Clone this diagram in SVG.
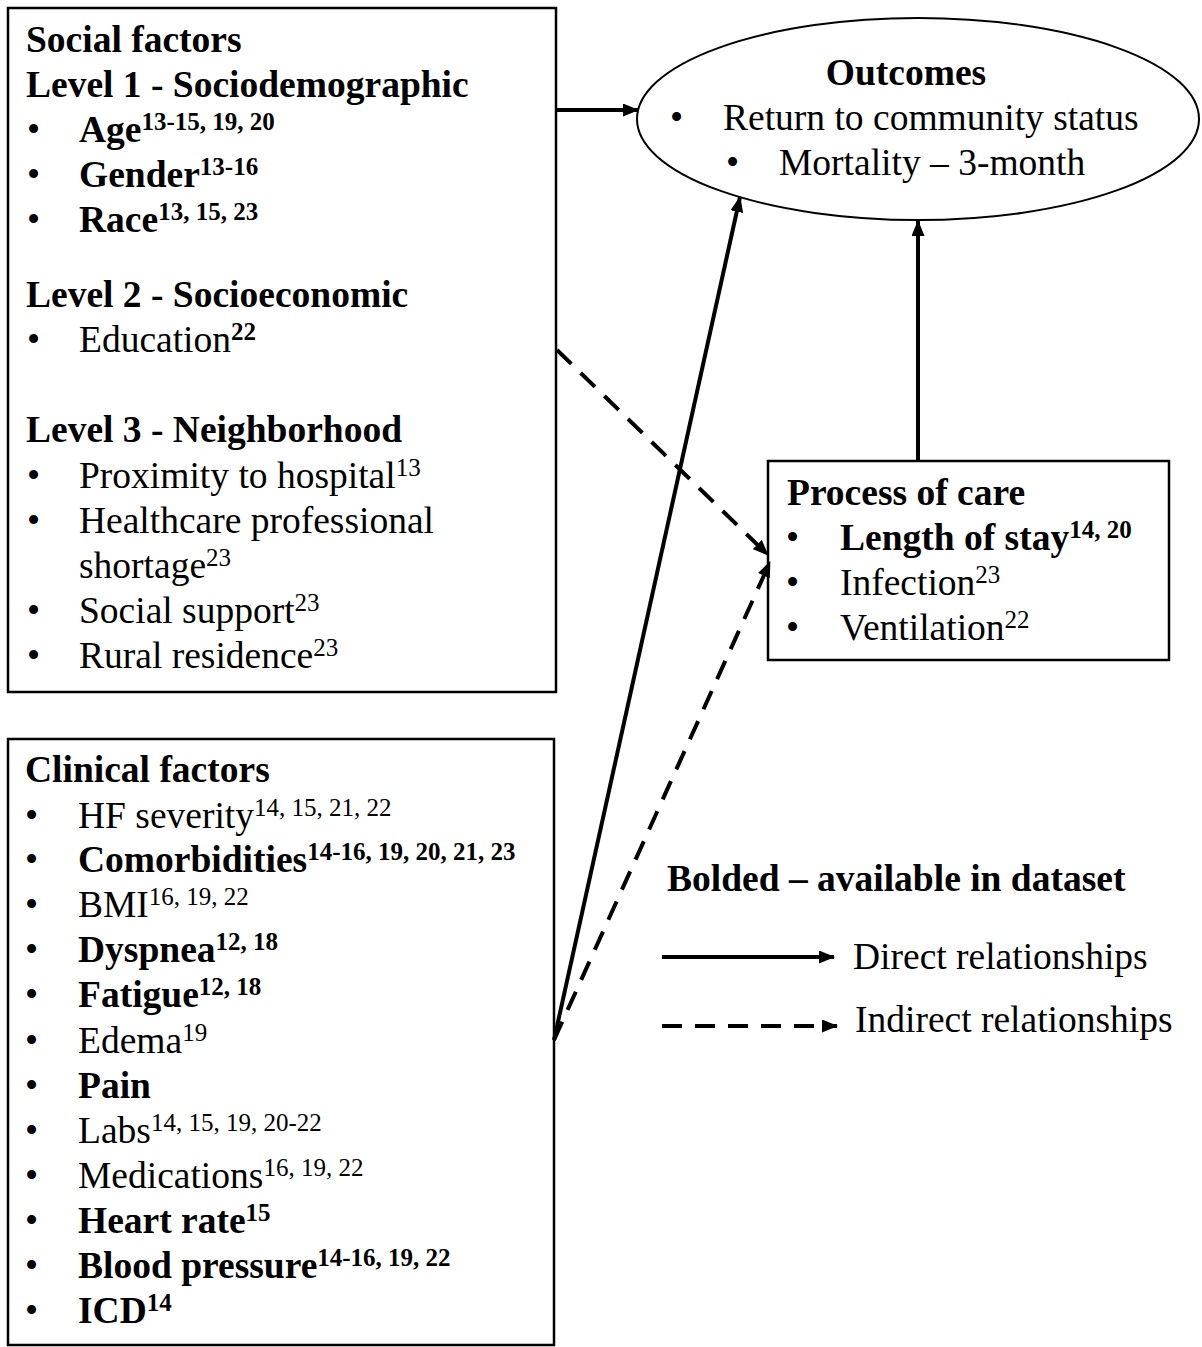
<svg xmlns="http://www.w3.org/2000/svg" width="1202" height="1347" viewBox="0 0 1202 1347">
<style>
text{font-family:"Liberation Serif","Times New Roman",serif;font-size:37.5px;fill:#000}
.b{font-weight:bold}
.sup{font-size:25px}
.box{fill:#fff;stroke:#000;stroke-width:2.5}
.ln{fill:none;stroke:#000;stroke-width:4}
.dash{stroke-dasharray:20 13}
</style>
<defs>
<marker id="ah" markerUnits="userSpaceOnUse" markerWidth="16" markerHeight="13" refX="15" refY="6.5" orient="auto">
<path d="M0,0 L16,6.5 L0,13 z" fill="#000"/>
</marker>
</defs>
<rect width="1202" height="1347" fill="#fff"/>
<g id="social">
<rect class="box" x="8" y="8" width="548" height="684"/>
<text class="b" x="26" y="52">Social factors</text>
<text class="b" x="26" y="97">Level 1 - Sociodemographic</text>
<text x="27" y="142">•</text><text class="b" x="79" y="142">Age<tspan class="sup" dy="-12">13-15, 19, 20</tspan></text>
<text x="27" y="187">•</text><text class="b" x="79" y="187">Gender<tspan class="sup" dy="-12">13-16</tspan></text>
<text x="27" y="232">•</text><text class="b" x="79" y="232">Race<tspan class="sup" dy="-12">13, 15, 23</tspan></text>
<text class="b" x="26" y="307">Level 2 - Socioeconomic</text>
<text x="27" y="352">•</text><text x="79" y="352">Education<tspan class="sup b" dy="-12">22</tspan></text>
<text class="b" x="26" y="442">Level 3 - Neighborhood</text>
<text x="27" y="488">•</text><text x="79" y="488">Proximity to hospital<tspan class="sup" dy="-12">13</tspan></text>
<text x="27" y="533">•</text><text x="79" y="533">Healthcare professional</text>
<text x="79" y="578">shortage<tspan class="sup" dy="-12">23</tspan></text>
<text x="27" y="623">•</text><text x="79" y="623">Social support<tspan class="sup" dy="-12">23</tspan></text>
<text x="27" y="668">•</text><text x="79" y="668">Rural residence<tspan class="sup" dy="-12">23</tspan></text>
</g>
<g id="clinical">
<rect class="box" x="8" y="739" width="546" height="606"/>
<text class="b" x="25" y="782">Clinical factors</text>
<text x="25" y="828">•</text><text x="78" y="828">HF severity<tspan class="sup" dy="-12">14, 15, 21, 22</tspan></text>
<text x="25" y="872">•</text><text class="b" x="78" y="872">Comorbidities<tspan class="sup" dy="-12">14-16, 19, 20, 21, 23</tspan></text>
<text x="25" y="917">•</text><text x="78" y="917">BMI<tspan class="sup" dy="-12">16, 19, 22</tspan></text>
<text x="25" y="962">•</text><text class="b" x="78" y="962">Dyspnea<tspan class="sup" dy="-12">12, 18</tspan></text>
<text x="25" y="1007">•</text><text class="b" x="78" y="1007">Fatigue<tspan class="sup" dy="-12">12, 18</tspan></text>
<text x="25" y="1053">•</text><text x="78" y="1053">Edema<tspan class="sup" dy="-12">19</tspan></text>
<text x="25" y="1098">•</text><text class="b" x="78" y="1098">Pain</text>
<text x="25" y="1143">•</text><text x="78" y="1143">Labs<tspan class="sup" dy="-12">14, 15, 19, 20-22</tspan></text>
<text x="25" y="1188">•</text><text x="78" y="1188">Medications<tspan class="sup" dy="-12">16, 19, 22</tspan></text>
<text x="25" y="1233">•</text><text class="b" x="78" y="1233">Heart rate<tspan class="sup" dy="-12">15</tspan></text>
<text x="25" y="1278">•</text><text class="b" x="78" y="1278">Blood pressure<tspan class="sup" dy="-12">14-16, 19, 22</tspan></text>
<text x="25" y="1323">•</text><text class="b" x="78" y="1323">ICD<tspan class="sup" dy="-12">14</tspan></text>
</g>
<g id="outcomes">
<ellipse cx="918" cy="119" rx="281" ry="101" fill="#fff" stroke="#000" stroke-width="2"/>
<text class="b" x="906" y="85" text-anchor="middle">Outcomes</text>
<text x="670" y="130">•</text><text x="723" y="130">Return to community status</text>
<text x="726" y="175">•</text><text x="779" y="175">Mortality – 3-month</text>
</g>
<g id="process">
<rect class="box" x="768" y="461" width="401" height="199"/>
<text class="b" x="787" y="505">Process of care</text>
<text x="786" y="550">•</text><text class="b" x="840" y="550">Length of stay<tspan class="sup" dy="-12">14, 20</tspan></text>
<text x="786" y="595">•</text><text x="840" y="595">Infection<tspan class="sup" dy="-12">23</tspan></text>
<text x="786" y="640">•</text><text x="840" y="640">Ventilation<tspan class="sup" dy="-12">22</tspan></text>
</g>
<g id="connectors">
<line class="ln" x1="556" y1="110" x2="638" y2="110" marker-end="url(#ah)"/>
<line class="ln" x1="918" y1="461" x2="918" y2="221" marker-end="url(#ah)"/>
<line class="ln" x1="554" y1="1040" x2="740" y2="197" marker-end="url(#ah)"/>
<line class="ln dash" x1="557" y1="350" x2="768" y2="555" marker-end="url(#ah)"/>
<line class="ln dash" x1="554" y1="1040" x2="770" y2="562" marker-end="url(#ah)"/>
</g>
<g id="legend">
<text class="b" x="667" y="891">Bolded – available in dataset</text>
<line class="ln" x1="662" y1="957" x2="834" y2="957" marker-end="url(#ah)"/>
<text x="853" y="969">Direct relationships</text>
<line class="ln dash" x1="662" y1="1026" x2="837" y2="1026" marker-end="url(#ah)"/>
<text x="855" y="1032">Indirect relationships</text>
</g>
</svg>
